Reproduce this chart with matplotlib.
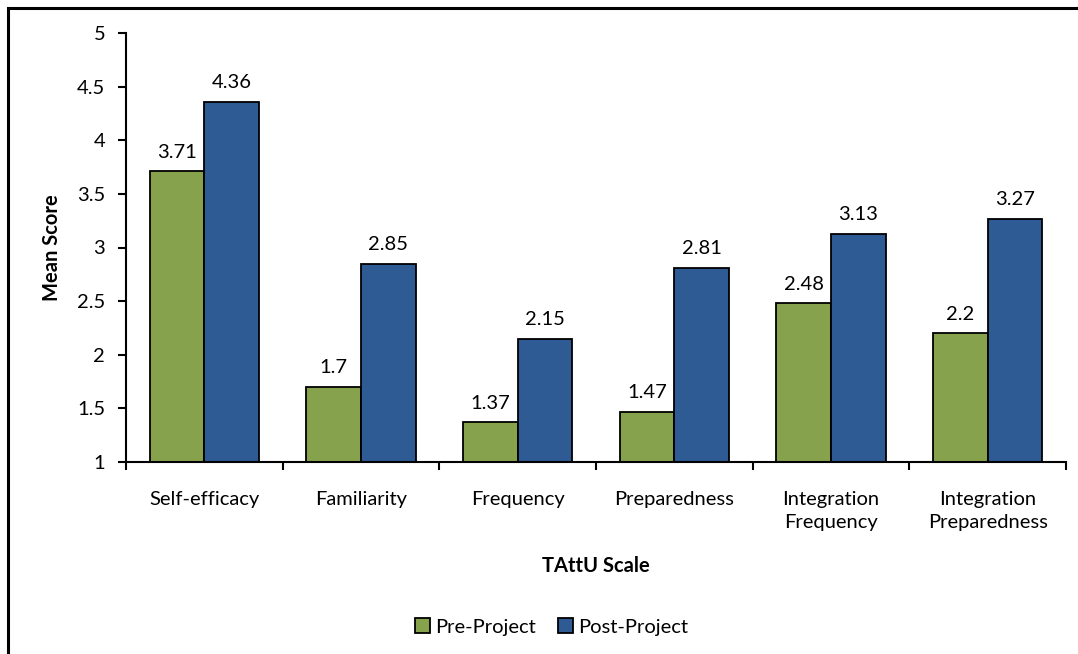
import numpy as np
import matplotlib
matplotlib.use('Agg')
import matplotlib.pyplot as plt
from matplotlib.patches import Rectangle

categories = ['Self-efficacy', 'Familiarity', 'Frequency', 'Preparedness',
              'Integration\nFrequency', 'Integration\nPreparedness']
pre_project = [3.71, 1.7, 1.37, 1.47, 2.48, 2.2]
post_project = [4.36, 2.85, 2.15, 2.81, 3.13, 3.27]
y_ticks = [1, 1.5, 2, 2.5, 3, 3.5, 4, 4.5, 5]

green = '#86A24D'
blue = '#2E5B93'
fs = 14.5

plt.rcParams['font.family'] = ['Lato', 'DejaVu Sans']

fig = plt.figure(figsize=(10.78, 6.54), dpi=100)
ax = fig.add_axes([126 / 1078, 1 - 462 / 654, 940 / 1078, 429 / 654])

# outer frame of the figure (runs off the right and bottom edges)
fig.patches.append(Rectangle((8 / 1078, -0.1), 1.2, 1 - 8 / 654 + 0.1,
                             transform=fig.transFigure, fill=False,
                             edgecolor='black', linewidth=2.2))

x = np.arange(len(categories))
w = 0.35
b1 = ax.bar(x - w / 2, np.array(pre_project) - 1, w, bottom=1, color=green,
            edgecolor='black', linewidth=1.3, label='Pre-Project')
b2 = ax.bar(x + w / 2, np.array(post_project) - 1, w, bottom=1, color=blue,
            edgecolor='black', linewidth=1.3, label='Post-Project')

for xi, v in zip(x - w / 2, pre_project):
    ax.text(xi, v + 0.1, f'{v:g}', ha='center', va='bottom', fontsize=fs)
for xi, v in zip(x + w / 2, post_project):
    ax.text(xi, v + 0.1, f'{v:g}', ha='center', va='bottom', fontsize=fs)

ax.set_ylim(1, 5)
ax.set_xlim(-0.5, len(categories) - 0.5)
ax.set_yticks(y_ticks)
ax.set_yticklabels([f'{t:g}' for t in y_ticks], fontsize=fs)
ax.set_xticks(np.arange(len(categories) + 1) - 0.5, minor=False)
ax.set_xticklabels([])
ax.set_xticks(x, minor=True)
ax.set_xticklabels(categories, minor=True, fontsize=fs, linespacing=1.45)
ax.tick_params(axis='x', which='minor', length=0, pad=21)
ax.tick_params(axis='x', which='major', direction='out', length=6, width=1.5)
ax.tick_params(axis='y', direction='out', length=6, width=1.5, pad=9)

for s in ['top', 'right']:
    ax.spines[s].set_visible(False)
for s in ['left', 'bottom']:
    ax.spines[s].set_linewidth(1.5)

ax.set_ylabel('Mean Score', fontsize=fs, fontweight='bold', labelpad=11)
ax.set_xlabel('TAttU Scale', fontsize=fs, fontweight='bold', labelpad=18)

fig.legend(handles=[b1, b2], loc='center', bbox_to_anchor=(552 / 1078, 1 - 627 / 654),
           ncol=2, frameon=False, fontsize=fs, handlelength=0.7, handleheight=0.7,
           handletextpad=0.3, columnspacing=1.1)

fig.savefig('out.png', dpi=100)
